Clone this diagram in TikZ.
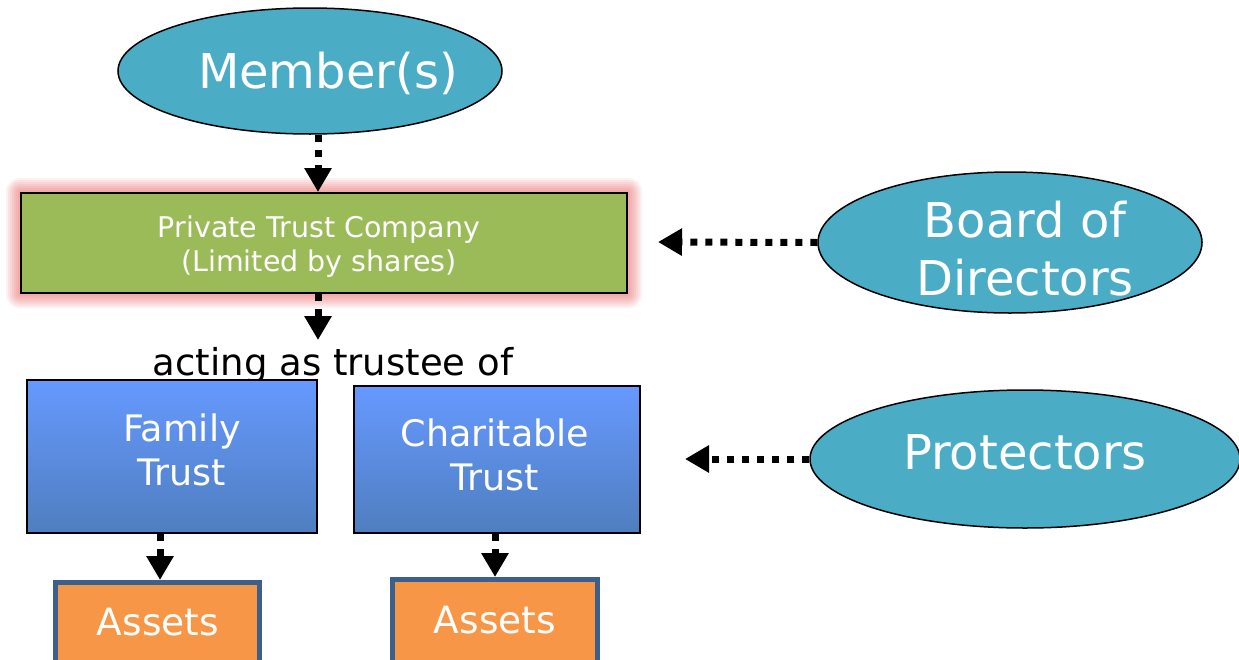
\documentclass[tikz,border=0pt]{standalone}
\usepackage{fontspec}
\setmainfont{DejaVu Sans}
\usetikzlibrary{shapes.geometric,arrows.meta,calc}
\definecolor{ellfill}{HTML}{4BACC6}
\definecolor{ptcgreen}{HTML}{9BBB59}
\definecolor{trusttop}{HTML}{6699FF}
\definecolor{trustbot}{HTML}{4F7EBF}
\definecolor{assetfill}{HTML}{F79646}
\definecolor{assetedge}{HTML}{3C5F8C}
\definecolor{glowred}{HTML}{E83A3A}
\begin{document}
\begin{tikzpicture}[x=1pt,y=-1pt,
  ell/.style={ellipse, draw=black, line width=1.5pt, fill=ellfill, inner sep=0pt},
  wtext/.style={text=white, align=center, inner sep=0pt},
  arr/.style={line width=7pt, dash pattern=on 7pt off 8pt, -{Triangle[length=24pt,width=26pt]}},
  trustbox/.style={draw=black, line width=2pt, top color=trusttop, bottom color=trustbot, inner sep=0pt},
  assetbox/.style={draw=assetedge, line width=5pt, fill=assetfill, inner sep=0pt}]
\useasboundingbox (0,0) rectangle (1239,659);
\clip (0,0) rectangle (1239,659);
\fill[white] (0,0) rectangle (1239,659);

% Members
\node[ell, minimum width=384pt, minimum height=126pt] (mem) at (310,71) {};
\node[wtext, font=\fontsize{48}{58}\selectfont] (memt) at (328,73) {Member(s)};

% Private trust company with glow
\foreach \k in {14,12,...,2}
  \fill[glowred, opacity=0.075, rounded corners=\k pt] ({20-\k},{192-\k}) rectangle ({628+\k},{294+\k});
\node[draw=black, line width=2pt, fill=ptcgreen, minimum width=606pt, minimum height=100pt] (ptc) at (324,243) {};
\node[wtext, font=\fontsize{28.5}{34}\selectfont] (ptct) at (319,247)
      {Private Trust Company\\(Limited by shares)};

% acting as trustee of
\node[anchor=base, inner sep=0pt, font=\fontsize{37}{44}\selectfont] (act) at (333,375) {acting as trustee of};

% Trust boxes
\node[trustbox, minimum width=290pt, minimum height=153pt] (fam) at (172,456.5) {};
\node[wtext, font=\fontsize{36.5}{44}\selectfont] (famt) at (182,450) {Family\\Trust};
\node[trustbox, minimum width=286pt, minimum height=147pt] (cha) at (497,459.5) {};
\node[wtext, font=\fontsize{36.5}{44}\selectfont] (chat) at (495,455) {Charitable\\Trust};

% Assets
\node[assetbox, minimum width=204pt, minimum height=140pt] (a1) at (157.5,652.5) {};
\node[wtext, font=\fontsize{37.5}{44}\selectfont] (a1t) at (158,622) {Assets};
\node[assetbox, minimum width=205pt, minimum height=140pt] (a2) at (495,649.5) {};
\node[wtext, font=\fontsize{37.5}{44}\selectfont] (a2t) at (495,620) {Assets};

% Board of directors
\node[ell, minimum width=384pt, minimum height=141pt] (bod) at (1010,242.5) {};
\node[wtext, font=\fontsize{48}{58}\selectfont] (bodt) at (1025,249) {Board of\\Directors};

% Protectors
\node[ell, minimum width=430pt, minimum height=138pt] (pro) at (1025,459) {};
\node[wtext, font=\fontsize{48}{58}\selectfont] (prot) at (1025,452) {Protectors};

% free ends
\coordinate (actend) at (318,340);
\coordinate (bodend) at (658,242);
\coordinate (proend) at (685,459);

% connectors
\draw[arr] ([xshift=8pt]mem.south) -- ([xshift=-6pt]ptc.north);
\draw[arr] ([xshift=-6pt]ptc.south) -- (actend);
\draw[arr] (bod.west) -- (bodend);
\draw[arr] (pro.west) -- (proend);
\draw[arr] ([xshift=-12pt]fam.south) -- ([xshift=2.5pt]a1.north);
\draw[arr] ([xshift=-2pt]cha.south) -- (a2.north);
\end{tikzpicture}
\end{document}
